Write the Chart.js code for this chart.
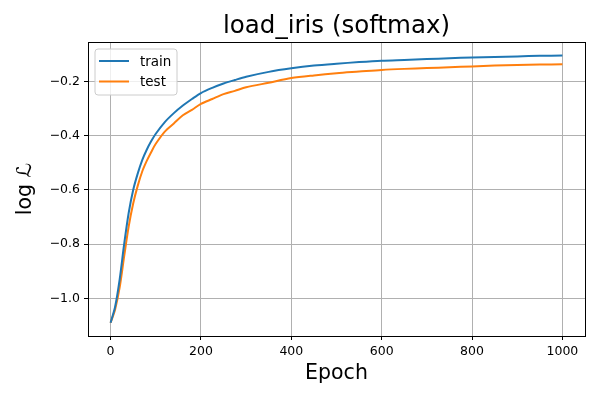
<!DOCTYPE html>
<html>
<head>
<meta charset="utf-8">
<script src="https://cdn.jsdelivr.net/npm/chart.js@4"></script>
<style>
  html, body { margin: 0; padding: 0; background: #fff; }
  #wrap { width: 600px; height: 400px; }
</style>
</head>
<body>
<div id="wrap"><canvas id="lossChart" width="600" height="400"></canvas></div>
<script>
// data
const epochs = [0, 10, 20, 30, 40, 50, 60, 70, 80, 90, 100, 120, 140, 160, 180, 200, 225, 250, 275, 300,
                350, 400, 450, 500, 550, 600, 650, 700, 750, 800, 850, 900, 950, 1000];
const trainLoss = [-1.089, -1.03, -0.93, -0.80, -0.685, -0.60, -0.54, -0.49, -0.452, -0.42, -0.393, -0.350,
                   -0.317, -0.289, -0.265, -0.243, -0.224, -0.208, -0.195, -0.183, -0.165, -0.152, -0.142,
                   -0.135, -0.129, -0.124, -0.121, -0.118, -0.115, -0.112, -0.110, -0.108, -0.106, -0.105];
const testLoss = [-1.089, -1.04, -0.96, -0.845, -0.735, -0.65, -0.585, -0.532, -0.493, -0.46, -0.43, -0.385,
                  -0.355, -0.325, -0.305, -0.283, -0.265, -0.247, -0.235, -0.222, -0.205, -0.188, -0.178,
                  -0.170, -0.164, -0.158, -0.154, -0.151, -0.148, -0.145, -0.142, -0.140, -0.138, -0.137];
const xTicks = [0, 200, 400, 600, 800, 1000];
const yTicks = [-1.0, -0.8, -0.6, -0.4, -0.2];

const FONT = "'DejaVu Sans', sans-serif";

function toPoints(ys) {
    return epochs.map((e, i) => ({ x: e, y: ys[i] }));
}

// title, frame and in-plot legend (matplotlib style)
const mplDecor = {
    id: 'mplDecor',
    afterDraw(chart) {
        const ctx = chart.ctx;
        const a = chart.chartArea;
        ctx.save();
        ctx.strokeStyle = '#000';
        ctx.lineWidth = 1;
        ctx.strokeRect(Math.round(a.left) + 0.5, Math.round(a.top) + 0.5,
                       Math.round(a.right - a.left), Math.round(a.bottom - a.top));

        ctx.fillStyle = '#000';
        ctx.font = '24.5px ' + FONT;
        ctx.textAlign = 'center';
        ctx.textBaseline = 'alphabetic';
        ctx.fillText('load_iris (softmax)', (a.left + a.right) / 2, 33);

        // legend box
        const bx = a.left + 7, by = a.top + 7, bw = 82, bh = 46, r = 3;
        ctx.beginPath();
        ctx.moveTo(bx + r, by);
        ctx.arcTo(bx + bw, by, bx + bw, by + bh, r);
        ctx.arcTo(bx + bw, by + bh, bx, by + bh, r);
        ctx.arcTo(bx, by + bh, bx, by, r);
        ctx.arcTo(bx, by, bx + bw, by, r);
        ctx.closePath();
        ctx.fillStyle = 'rgba(255,255,255,0.8)';
        ctx.fill();
        ctx.strokeStyle = '#cccccc';
        ctx.stroke();

        chart.data.datasets.forEach((ds, i) => {
            const ly = by + 12 + i * 20.5;
            ctx.strokeStyle = ds.borderColor;
            ctx.lineWidth = 2;
            ctx.beginPath();
            ctx.moveTo(bx + 4, ly);
            ctx.lineTo(bx + 34, ly);
            ctx.stroke();
            ctx.fillStyle = '#000';
            ctx.font = '13.5px ' + FONT;
            ctx.textAlign = 'left';
            ctx.textBaseline = 'middle';
            ctx.fillText(ds.label, bx + 45, ly + 1);
        });
        ctx.restore();
    }
};

const tickFmt = v => (v < 0 ? '\u2212' : '') + Math.abs(v).toFixed(1);

new Chart(document.getElementById('lossChart'), {
    type: 'line',
    data: {
        datasets: [
            { label: 'train', data: toPoints(trainLoss), borderColor: '#1f77b4', borderWidth: 2,
              pointRadius: 0, tension: 0.3, fill: false },
            { label: 'test', data: toPoints(testLoss), borderColor: '#ff7f0e', borderWidth: 2,
              pointRadius: 0, tension: 0.3, fill: false }
        ]
    },
    options: {
        responsive: false,
        animation: false,
        layout: { padding: { top: 42, right: 15, left: 0, bottom: 0 } },
        plugins: { legend: { display: false }, title: { display: false }, tooltip: { enabled: false } },
        scales: {
            x: {
                type: 'linear',
                min: -50, max: 1050,
                afterBuildTicks: s => { s.ticks = xTicks.map(v => ({ value: v })); },
                afterFit: s => { s.height = 64; },
                ticks: { color: '#000', font: { family: FONT, size: 12.5 }, padding: 4,
                         maxRotation: 0, autoSkip: false, callback: v => String(v) },
                grid: { color: '#b0b0b0', lineWidth: 1, tickColor: '#000', tickLength: 4 },
                border: { display: false },
                title: { display: true, text: 'Epoch', color: '#000',
                         font: { family: FONT, size: 20.5 }, padding: { top: 4, bottom: 14 } }
            },
            y: {
                min: -1.138, max: -0.055,
                afterBuildTicks: s => { s.ticks = yTicks.map(v => ({ value: v })); },
                afterFit: s => { s.width = 88; },
                ticks: { color: '#000', font: { family: FONT, size: 12.5 }, padding: 4,
                         autoSkip: false, callback: tickFmt },
                grid: { color: '#b0b0b0', lineWidth: 1, tickColor: '#000', tickLength: 4 },
                border: { display: false },
                title: { display: true, text: 'log \u2112', color: '#000',
                         font: { family: FONT, size: 20.5 }, padding: { top: 13, bottom: 0 } }
            }
        }
    },
    plugins: [mplDecor]
});
</script>
</body>
</html>
